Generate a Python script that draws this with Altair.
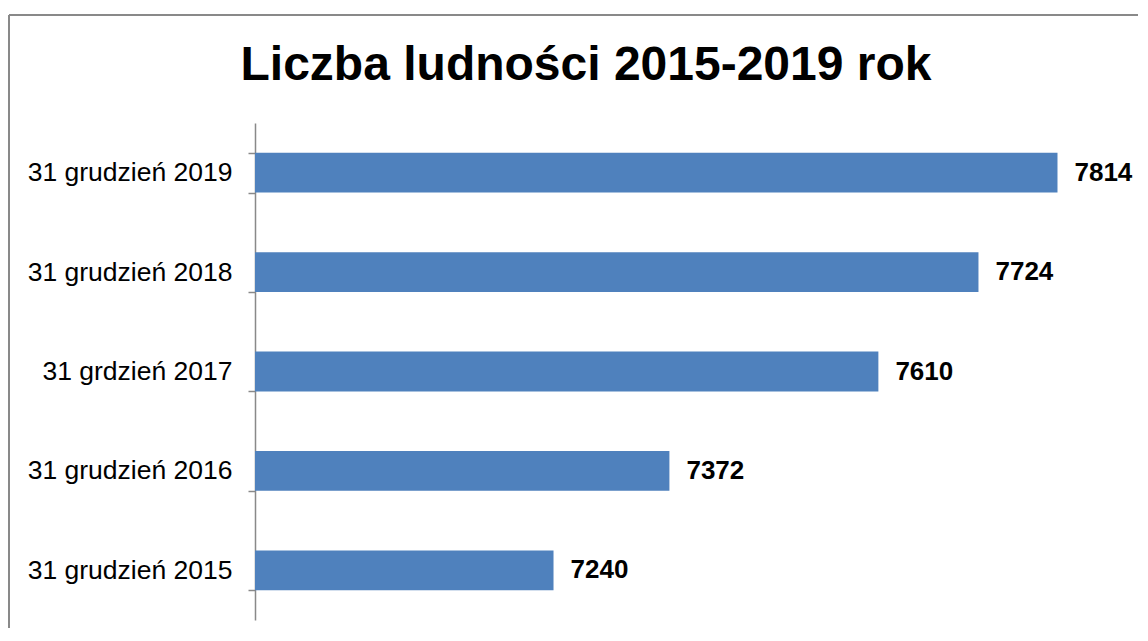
import altair as alt
import pandas as pd

title_text = "Liczba ludności 2015-2019 rok"
categories = ["31 grudzień 2019", "31 grudzień 2018", "31 grdzień 2017",
              "31 grudzień 2016", "31 grudzień 2015"]
values = [7814, 7724, 7610, 7372, 7240]

df = pd.DataFrame({"kategoria": categories, "ludnosc": values})
title_df = pd.DataFrame({"t": [title_text]})

FONT = "Liberation Sans"
GRAY = "#898989"

y_enc = alt.Y("kategoria:N", sort=categories, title=None,
              scale=alt.Scale(paddingInner=0.6, paddingOuter=0.3),
              axis=alt.Axis(labelFont=FONT, labelFontSize=26.5, labelColor="#000000",
                            labelPadding=16, tickSize=7, tickBand="extent",
                            tickColor=GRAY, tickWidth=1.5, domainColor=GRAY,
                            domainWidth=1.5, labelLimit=400))
x_enc = alt.X("ludnosc:Q", title=None, stack=None,
              scale=alt.Scale(domain=[6900, 7900], zero=False, nice=False),
              axis=None)

bars = alt.Chart(df).mark_bar(color="#4F81BD").encode(
    x=x_enc, x2=alt.value(0), y=y_enc)

labels = alt.Chart(df).mark_text(align="left", baseline="middle", dx=17,
                                 font=FONT, fontSize=26, fontWeight="bold",
                                 color="#000000").encode(
    x=x_enc, y=alt.Y("kategoria:N", sort=categories), text="ludnosc:Q")

frame_left = alt.Chart(title_df).mark_rule(color=GRAY, strokeWidth=2).encode(
    x=alt.value(-246), y=alt.value(-108), y2=alt.value(520))
frame_top = alt.Chart(title_df).mark_rule(color=GRAY, strokeWidth=2).encode(
    x=alt.value(-246), x2=alt.value(900), y=alt.value(-108))

title = alt.Chart(title_df).mark_text(align="center", baseline="alphabetic",
                                      font=FONT, fontSize=48, fontWeight="bold",
                                      color="#000000").encode(
    x=alt.value(331), y=alt.value(-43), text="t:N")

chart = alt.layer(frame_left, frame_top, bars, labels, title).properties(
    width=878, height=497,
    autosize=alt.AutoSizeParams(type="none"),
    padding={"left": 247, "top": 115, "right": 5, "bottom": 8},
).configure_view(stroke=None)

chart.save("out.html", embed_options={"renderer": "svg", "actions": False})
